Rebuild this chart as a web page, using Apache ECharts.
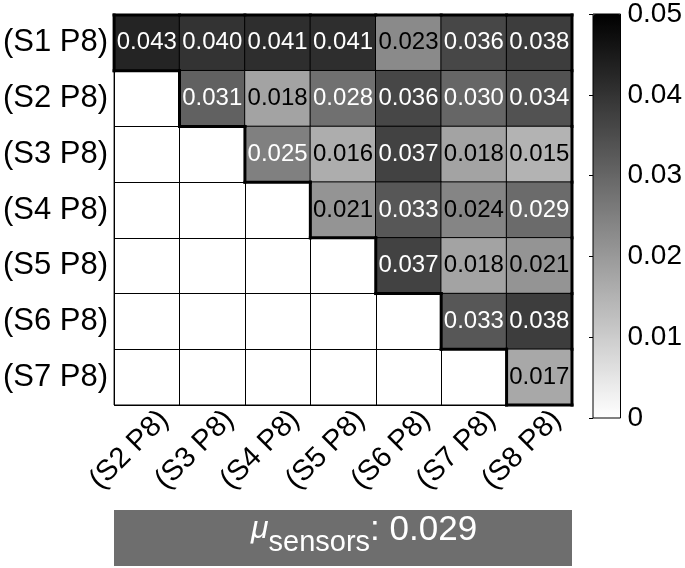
<!DOCTYPE html>
<html>
<head>
<meta charset="utf-8">
<script src="https://cdn.jsdelivr.net/npm/echarts@6/dist/echarts.min.js"></script>
<style>
  html, body { margin: 0; padding: 0; background: #fff; }
  #chart { width: 685px; height: 568px; }
</style>
</head>
<body>
<div id="chart"></div>
<script>
// row / column labels
const rowLabels = ['(S1 P8)', '(S2 P8)', '(S3 P8)', '(S4 P8)', '(S5 P8)', '(S6 P8)', '(S7 P8)']
const colLabels = ['(S2 P8)', '(S3 P8)', '(S4 P8)', '(S5 P8)', '(S6 P8)', '(S7 P8)', '(S8 P8)']

// upper triangle, row i starts at column i
const rowS1 = [0.043, 0.040, 0.041, 0.041, 0.023, 0.036, 0.038]
const rowS2 = [0.031, 0.018, 0.028, 0.036, 0.030, 0.034]
const rowS3 = [0.025, 0.016, 0.037, 0.018, 0.015]
const rowS4 = [0.021, 0.033, 0.024, 0.029]
const rowS5 = [0.037, 0.018, 0.021]
const rowS6 = [0.033, 0.038]
const rowS7 = [0.017]
const rows = [rowS1, rowS2, rowS3, rowS4, rowS5, rowS6, rowS7]

const meanLabel = '0.029'

const FONT = 'Liberation Sans, Arial, sans-serif'
const GRID = { left: 114, top: 15, width: 458, height: 390 }
const BAR = { left: 593, top: 14, width: 28, height: 404 }

const cells = []
rows.forEach((vals, i) => {
  vals.forEach((v, k) => {
    cells.push({
      value: [i + k, i, v],
      label: { color: v >= 0.025 ? '#fff' : '#000' },
    })
  })
})

const chart = echarts.init(document.getElementById('chart'))

const option = {
  animation: false,
  textStyle: { fontFamily: FONT },
  grid: [
    { ...GRID, show: true, borderColor: '#000', borderWidth: 1, backgroundColor: '#fff' },
    { ...BAR, show: true, borderColor: '#000', borderWidth: 1, backgroundColor: 'transparent', z: 5 },
  ],
  xAxis: [
    {
      type: 'category', data: colLabels, gridIndex: 0,
      axisLine: { show: false }, axisTick: { show: false },
      splitLine: { show: true, interval: 0, lineStyle: { color: '#000', width: 1 } },
      axisLabel: {
        rotate: 45, fontSize: 29, color: '#000', fontFamily: FONT, margin: 7, interval: 0,
        verticalAlign: 'top', padding: [0, -10, 0, 0],
      },
    },
    { type: 'value', gridIndex: 1, show: false, min: 0, max: 1 },
  ],
  yAxis: [
    {
      type: 'category', data: rowLabels, gridIndex: 0, inverse: true,
      axisLine: { show: false }, axisTick: { show: false },
      splitLine: { show: true, interval: 0, lineStyle: { color: '#000', width: 1 } },
      axisLabel: { fontSize: 31, color: '#000', fontFamily: FONT, margin: 6 },
    },
    {
      type: 'value', gridIndex: 1, position: 'right', min: 0, max: 0.05, interval: 0.01,
      axisLine: { show: false },
      axisTick: { show: true, inside: true, length: 4, lineStyle: { color: '#000' } },
      splitLine: { show: false },
      axisLabel: { fontSize: 28, color: '#000', fontFamily: FONT, margin: 7, formatter: (v) => String(+v.toFixed(2)) },
      z: 5,
    },
  ],
  visualMap: {
    type: 'continuous', min: 0, max: 0.05, seriesIndex: 0,
    inRange: { color: ['#ffffff', '#000000'] },
    left: BAR.left, top: BAR.top, itemWidth: BAR.width, itemHeight: BAR.height,
    padding: 0, calculable: false, text: null, showLabel: false,
  },
  series: [
    {
      type: 'heatmap', xAxisIndex: 0, yAxisIndex: 0, data: cells,
      itemStyle: { borderColor: '#000', borderWidth: 1 },
      label: { show: true, fontSize: 24, fontFamily: FONT, formatter: (p) => p.value[2].toFixed(3) },
      emphasis: { disabled: true },
    },
    {
      type: 'custom', xAxisIndex: 0, yAxisIndex: 0, z: 4, silent: true,
      data: cells.map((c) => c.value),
      renderItem: (params, api) => {
        const x = api.value(0), y = api.value(1)
        const c = api.coord([x, y])
        const s = api.size([1, 1])
        const x0 = c[0] - s[0] / 2, x1 = c[0] + s[0] / 2
        const y0 = c[1] - s[1] / 2, y1 = c[1] + s[1] / 2
        const edges = []
        if (y === 0) edges.push([x0, y0, x1, y0])
        if (x === colLabels.length - 1) edges.push([x1, y0, x1, y1])
        if (x === y) {
          edges.push([x0, y0, x0, y1])
          edges.push([x0, y1, x1, y1])
        }
        return {
          type: 'group',
          children: edges.map((e) => ({
            type: 'line',
            shape: { x1: e[0], y1: e[1], x2: e[2], y2: e[3] },
            style: { stroke: '#000', lineWidth: 3, lineCap: 'square' },
          })),
        }
      },
    },
  ],
  graphic: [
    {
      type: 'rect', left: GRID.left, top: 510, z: 10,
      shape: { width: GRID.width, height: 56 },
      style: { fill: '#6e6e6e' },
    },
    {
      type: 'text', left: 251, top: 513, z: 11,
      style: {
        text: '{mu|μ}{sub|sensors}{val|: ' + meanLabel + '}',
        fill: '#fff',
        rich: {
          mu: { fontSize: 32, fontStyle: 'italic', fontFamily: FONT, fill: '#fff', verticalAlign: 'top', lineHeight: 44 },
          sub: { fontSize: 29, fontFamily: FONT, fill: '#fff', verticalAlign: 'bottom', lineHeight: 44 },
          val: { fontSize: 35, fontFamily: FONT, fill: '#fff', verticalAlign: 'top', lineHeight: 44 },
        },
      },
    },
  ],
}

chart.setOption(option)
</script>
</body>
</html>
